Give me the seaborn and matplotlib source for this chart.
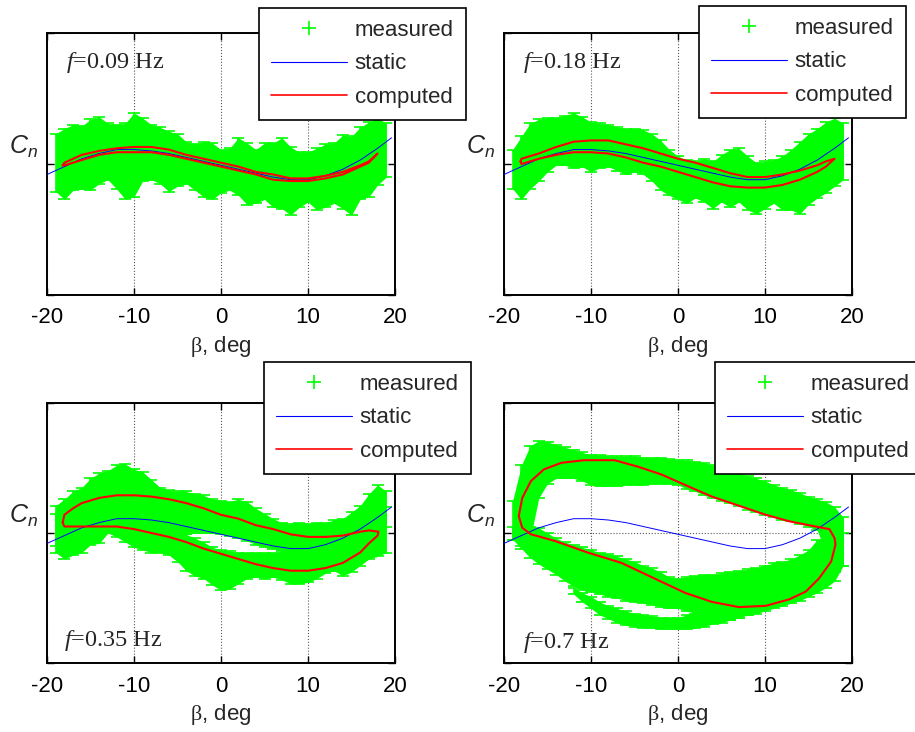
import numpy as np
import matplotlib
matplotlib.use("Agg")
import matplotlib.pyplot as plt
from matplotlib.lines import Line2D
import seaborn as sns

# ---------------------------------------------------------------- data
# sideslip grid (deg) on which the measured scatter band was sampled
BETA = list(range(-19, 20))

# static yawing-moment curve
STATIC_BETA = [-20, -18, -16, -14, -12, -10, -8, -6, -4, -2, 0, 2, 4, 6, 8, 10, 12, 14, 16, 18, 19.6]
STATIC_CN = [-0.08, -0.02, 0.04, 0.08, 0.11, 0.11, 0.10, 0.08, 0.05, 0.02, -0.01,
             -0.04, -0.07, -0.10, -0.12, -0.12, -0.09, -0.04, 0.03, 0.12, 0.20]

# f = 0.09 Hz
M009_TOP = [0.23, 0.27, 0.30, 0.29, 0.34, 0.36, 0.31, 0.30, 0.31, 0.39, 0.35, 0.30, 0.28,
            0.25, 0.23, 0.17, 0.15, 0.17, 0.16, 0.11, 0.12, 0.20, 0.16, 0.11, 0.16, 0.16,
            0.20, 0.13, 0.09, 0.09, 0.12, 0.15, 0.16, 0.22, 0.21, 0.28, 0.32, 0.35, 0.31]
M009_BOT = [-0.21, -0.27, -0.20, -0.19, -0.20, -0.15, -0.12, -0.19, -0.27, -0.25, -0.13,
            -0.12, -0.15, -0.21, -0.17, -0.15, -0.20, -0.25, -0.27, -0.22, -0.20, -0.24,
            -0.31, -0.30, -0.27, -0.33, -0.34, -0.39, -0.33, -0.29, -0.35, -0.33, -0.30,
            -0.34, -0.39, -0.27, -0.25, -0.16, -0.10]
C009_UP_BETA = [-18.2, -18, -16, -14, -12, -10, -8, -6, -4, -2, 0, 2, 4, 6, 8, 10, 12, 14, 16, 17, 18.0]
C009_UP_CN = [-0.01, 0.01, 0.07, 0.10, 0.12, 0.13, 0.13, 0.11, 0.07, 0.04, 0.01, -0.02,
              -0.06, -0.08, -0.11, -0.11, -0.09, -0.06, -0.01, 0.02, 0.08]
C009_DN_BETA = [18.0, 17, 16, 14, 12, 10, 8, 6, 4, 2, 0, -2, -4, -6, -8, -10, -12, -14, -16, -18, -18.2]
C009_DN_CN = [0.08, 0.01, -0.02, -0.08, -0.11, -0.13, -0.13, -0.12, -0.08, -0.05, -0.02,
              0.01, 0.04, 0.07, 0.09, 0.09, 0.09, 0.07, 0.03, -0.01, -0.01]

# f = 0.18 Hz
M018_TOP = [0.11, 0.21, 0.31, 0.34, 0.35, 0.35, 0.37, 0.39, 0.36, 0.32, 0.31, 0.30, 0.28,
            0.27, 0.27, 0.26, 0.23, 0.18, 0.11, 0.06, 0.03, 0.02, 0.04, 0.02, 0.07, 0.11,
            0.12, 0.06, 0.01, 0.02, 0.03, 0.06, 0.11, 0.17, 0.23, 0.27, 0.32, 0.35, 0.31]
M018_BOT = [-0.19, -0.27, -0.19, -0.13, -0.06, -0.01, -0.01, -0.03, -0.02, -0.06, -0.03,
            -0.02, -0.05, -0.08, -0.06, -0.08, -0.13, -0.20, -0.24, -0.27, -0.30, -0.26,
            -0.29, -0.34, -0.29, -0.33, -0.29, -0.35, -0.38, -0.34, -0.30, -0.35, -0.35,
            -0.38, -0.31, -0.26, -0.22, -0.17, -0.12]
C018_UP_BETA = [-18.1, -18, -16, -14, -12, -10, -8, -6, -4, -2, 0, 2, 4, 6, 8, 10, 12, 14, 16, 17, 18.0]
C018_UP_CN = [0.02, 0.04, 0.08, 0.13, 0.17, 0.18, 0.18, 0.15, 0.12, 0.08, 0.04, 0.01,
              -0.03, -0.07, -0.10, -0.10, -0.08, -0.05, -0.01, 0.02, 0.04]
C018_DN_BETA = [18.0, 17, 16, 14, 12, 10, 8, 6, 4, 2, 0, -2, -4, -6, -8, -10, -12, -14, -16, -18, -18.1]
C018_DN_CN = [0.04, -0.02, -0.06, -0.12, -0.16, -0.18, -0.18, -0.17, -0.14, -0.10, -0.06,
              -0.02, 0.01, 0.05, 0.08, 0.09, 0.09, 0.07, 0.04, 0.00, 0.02]

# f = 0.35 Hz (two branches of the scatter band)
M035_UP_TOP = [0.21, 0.26, 0.32, 0.35, 0.42, 0.46, 0.48, 0.52, 0.53, 0.49, 0.47, 0.41, 0.35,
               0.33, 0.32, 0.32, 0.30, 0.29, 0.26, 0.25, 0.24, 0.26, 0.24, 0.19, 0.15, 0.11,
               0.08, 0.07, 0.08, 0.07, 0.08, 0.08, 0.10, 0.11, 0.16, 0.21, 0.30, 0.37, 0.32]
M035_UP_BOT = [-0.10, -0.05, -0.02, 0.00, 0.02, 0.04, 0.05, 0.06, 0.06, 0.06, 0.05, 0.04,
               0.03, 0.02, 0.00, -0.01, 0.00, 0.00, 0.00, -0.01, -0.02, -0.04, -0.06, -0.09,
               -0.11, -0.12, -0.13, -0.14, -0.14, -0.14, -0.14, -0.13, -0.12, -0.10, -0.08,
               -0.05, -0.02, 0.02, 0.05]
M035_DN_TOP = [0.15, 0.20, 0.22, 0.22, 0.20, 0.20, 0.20, 0.18, 0.15, 0.12, 0.10, 0.08, 0.06,
               0.04, 0.00, -0.01, -0.04, -0.07, -0.11, -0.13, -0.14, -0.15, -0.15, -0.15,
               -0.15, -0.15, -0.14, -0.10, -0.08, -0.06, -0.05, -0.03, 0.00, 0.03, 0.06,
               0.10, 0.14, 0.18, 0.20]
M035_DN_BOT = [-0.15, -0.20, -0.17, -0.15, -0.09, -0.08, 0.00, -0.03, -0.07, -0.11, -0.13,
               -0.15, -0.15, -0.17, -0.22, -0.29, -0.33, -0.35, -0.40, -0.44, -0.43, -0.39,
               -0.35, -0.34, -0.35, -0.34, -0.36, -0.39, -0.39, -0.38, -0.35, -0.31, -0.29,
               -0.33, -0.30, -0.25, -0.20, -0.18, -0.15]
C035_UP_BETA = [-18.2, -18, -17, -16, -14, -12, -10, -8, -6, -4, -2, 0, 2, 4, 6, 8, 10, 12, 14, 16, 17, 18.1]
C035_UP_CN = [0.08, 0.14, 0.19, 0.23, 0.27, 0.29, 0.29, 0.28, 0.26, 0.23, 0.19, 0.14, 0.11,
              0.06, 0.03, -0.01, -0.03, -0.03, -0.02, 0.01, 0.02, 0.01]
C035_DN_BETA = [18.1, 18, 17, 16, 14, 12, 10, 8, 6, 4, 2, 0, -2, -4, -6, -8, -10, -12, -14, -16, -18, -18.2]
C035_DN_CN = [0.01, -0.02, -0.08, -0.15, -0.23, -0.27, -0.29, -0.29, -0.27, -0.24, -0.20,
              -0.16, -0.12, -0.07, -0.03, 0.00, 0.03, 0.05, 0.05, 0.05, 0.05, 0.08]

# f = 0.7 Hz (upper branch, lower branch and the low excursion)
M070_UP_TOP = [0.25, 0.52, 0.67, 0.71, 0.70, 0.68, 0.66, 0.64, 0.62, 0.60, 0.60, 0.59, 0.59,
               0.59, 0.59, 0.58, 0.58, 0.58, 0.57, 0.56, 0.56, 0.55, 0.54, 0.52, 0.50, 0.48,
               0.46, 0.44, 0.42, 0.40, 0.37, 0.35, 0.33, 0.31, 0.28, 0.26, 0.24, 0.20, 0.12]
M070_UP_BOT = [-0.05, -0.10, -0.05, 0.27, 0.38, 0.42, 0.42, 0.42, 0.40, 0.37, 0.36, 0.36,
               0.36, 0.37, 0.37, 0.37, 0.38, 0.38, 0.38, 0.37, 0.34, 0.32, 0.29, 0.27, 0.25,
               0.23, 0.21, 0.18, 0.16, 0.14, 0.12, 0.10, 0.09, 0.07, 0.05, 0.02, -0.15,
               -0.30, -0.25]
M070_DN_TOP = [0.05, 0.05, 0.05, 0.04, 0.00, -0.04, -0.07, -0.09, -0.11, -0.13, -0.15, -0.16,
               -0.18, -0.20, -0.22, -0.25, -0.27, -0.30, -0.34, -0.35, -0.34, -0.33, -0.32,
               -0.32, -0.31, -0.30, -0.29, -0.28, -0.27, -0.25, -0.23, -0.22, -0.20, -0.17,
               -0.13, -0.05, -0.05, 0.00, 0.00]
M070_DN_BOT = [-0.05, -0.12, -0.19, -0.24, -0.28, -0.32, -0.37, -0.41, -0.44, -0.45, -0.47,
               -0.49, -0.50, -0.52, -0.53, -0.54, -0.55, -0.57, -0.58, -0.58, -0.60, -0.62,
               -0.64, -0.66, -0.67, -0.67, -0.65, -0.63, -0.62, -0.60, -0.58, -0.56, -0.54,
               -0.52, -0.49, -0.46, -0.42, -0.37, -0.25]
M070_LOW_BETA = list(range(-12, 9))
M070_LOW_TOP = [-0.42, -0.46, -0.49, -0.53, -0.56, -0.58, -0.60, -0.62, -0.63, -0.64, -0.65,
                -0.65, -0.65, -0.63, -0.60, -0.58, -0.56, -0.55, -0.55, -0.55, -0.56]
M070_LOW_BOT = [-0.47, -0.53, -0.58, -0.63, -0.66, -0.69, -0.71, -0.72, -0.73, -0.73, -0.74,
                -0.74, -0.74, -0.74, -0.73, -0.72, -0.70, -0.69, -0.67, -0.65, -0.63]
C070_UP_BETA = [-18.3, -17.9, -16.9, -15.4, -13.4, -10.8, -7.3, -4.6, -1.9, 0.8, 3.9, 7.0,
                10.1, 12.8, 15.8, 17.4, 18.0, 18.1]
C070_UP_CN = [0.13, 0.27, 0.40, 0.49, 0.54, 0.56, 0.56, 0.51, 0.45, 0.37, 0.28, 0.21, 0.14,
              0.09, 0.05, 0.03, -0.04, -0.09]
C070_DN_BETA = [18.1, 17.6, 16.2, 14.7, 12.8, 10.1, 7.0, 3.9, 0.8, -2.7, -6.5, -10.4, -14.2,
                -16.9, -17.9, -18.3]
C070_DN_CN = [-0.09, -0.22, -0.35, -0.45, -0.51, -0.56, -0.57, -0.53, -0.46, -0.35, -0.23,
              -0.15, -0.06, -0.01, 0.04, 0.13]

FREQ_LABELS = ["0.09", "0.18", "0.35", "0.7"]
X_TICKS = [-20, -10, 0, 10, 20]

# ---------------------------------------------------------------- style
LIME = "#00ff00"
sns.set_style("ticks")
plt.rcParams["font.family"] = ["Liberation Sans", "DejaVu Sans"]
plt.rcParams["axes.unicode_minus"] = False
plt.rcParams["mathtext.fontset"] = "custom"
plt.rcParams["mathtext.rm"] = "Liberation Serif"
plt.rcParams["mathtext.it"] = "Liberation Serif:italic"
plt.rcParams["mathtext.sf"] = "Liberation Sans:italic"

FS = 16

fig = plt.figure(figsize=(9.15, 7.32), dpi=100)
fig.patch.set_facecolor("white")

W, H = 915.0, 732.0
boxes = [(47, 33, 348, 262), (504, 33, 348, 262), (47, 403, 348, 260), (504, 403, 348, 260)]
axes = [fig.add_axes([x / W, 1 - (y + h) / H, w / W, h / H]) for (x, y, w, h) in boxes]


def draw_band(ax, beta, top, bot):
    beta = np.asarray(beta, float)
    top = np.asarray(top, float)
    bot = np.asarray(bot, float)
    ax.fill_between(beta, bot, top, color=LIME, lw=0, zorder=2)
    ax.errorbar(beta, (top + bot) / 2, yerr=(top - bot) / 2, fmt="none", ecolor=LIME,
                elinewidth=1.2, capsize=4, capthick=1.2, zorder=2)


def draw_loop(ax, up_b, up_c, dn_b, dn_c):
    b = list(up_b) + list(dn_b)
    c = list(up_c) + list(dn_c)
    sns.lineplot(x=b, y=c, sort=False, estimator=None, color="red", lw=1.5, ax=ax, zorder=4)


bands = [
    [(BETA, M009_TOP, M009_BOT)],
    [(BETA, M018_TOP, M018_BOT)],
    [(BETA, M035_UP_TOP, M035_UP_BOT), (BETA, M035_DN_TOP, M035_DN_BOT)],
    [(BETA, M070_UP_TOP, M070_UP_BOT), (BETA, M070_DN_TOP, M070_DN_BOT),
     (M070_LOW_BETA, M070_LOW_TOP, M070_LOW_BOT)],
]
loops = [
    (C009_UP_BETA, C009_UP_CN, C009_DN_BETA, C009_DN_CN),
    (C018_UP_BETA, C018_UP_CN, C018_DN_BETA, C018_DN_CN),
    (C035_UP_BETA, C035_UP_CN, C035_DN_BETA, C035_DN_CN),
    (C070_UP_BETA, C070_UP_CN, C070_DN_BETA, C070_DN_CN),
]
ftext_pos = [(0.055, 0.889), (0.055, 0.889), (0.049, 0.088), (0.055, 0.080)]

for i, ax in enumerate(axes):
    for band in bands[i]:
        draw_band(ax, *band)
    sns.lineplot(x=STATIC_BETA, y=STATIC_CN, color="blue", lw=0.7, ax=ax, zorder=3)
    draw_loop(ax, *loops[i])

    ax.set_xlim(-20, 20)
    ax.set_ylim(-1, 1)
    ax.set_xticks(X_TICKS)
    ax.set_yticks([-1, 0, 1])
    ax.set_yticklabels([])
    ax.tick_params(axis="both", direction="in", top=True, right=True, length=5, width=1,
                   labelsize=FS, pad=9, colors="black")
    ax.grid(True, linestyle=":", color="0.35", linewidth=0.8)
    ax.set_axisbelow(True)
    for s in ax.spines.values():
        s.set_visible(True)
        s.set_color("black")
        s.set_linewidth(1.4)
    ax.set_xlabel(r"$\mathrm{\beta}$, deg", fontsize=FS, labelpad=4)
    ax.set_ylabel(r"$\mathsf{C_n}$", fontsize=FS + 2, rotation=0, ha="center", va="center")
    ax.yaxis.set_label_coords(-0.066, 0.565)
    fx, fy = ftext_pos[i]
    ax.text(fx, fy, r"$\mathit{f}$=" + FREQ_LABELS[i] + " Hz", transform=ax.transAxes,
            fontfamily="Liberation Serif", fontsize=FS + 1.5, va="center", ha="left")

handles = [
    Line2D([], [], color=LIME, marker="+", markersize=10, markeredgewidth=1.2, linestyle="none"),
    Line2D([], [], color="blue", lw=0.8),
    Line2D([], [], color="red", lw=1.2),
]
labels = ["measured", "static", "computed"]
legend_anchor = [(259, 8), (699, 6), (264, 362), (715, 362)]
for (lx, ly) in legend_anchor:
    leg = fig.legend(handles, labels, loc="upper left", bbox_to_anchor=(lx / W, 1 - ly / H),
                     bbox_transform=fig.transFigure, borderaxespad=0, fontsize=FS,
                     handlelength=3.4, handletextpad=0.35, labelspacing=0.55, borderpad=0.55,
                     frameon=True, fancybox=False, framealpha=1, edgecolor="black")
    leg.get_frame().set_linewidth(1.2)

fig.savefig("out.png", dpi=100, facecolor="white")
